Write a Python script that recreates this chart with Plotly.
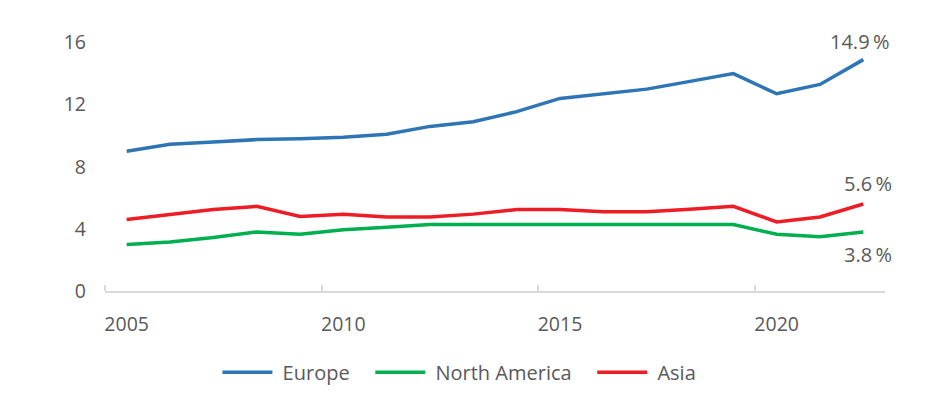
import plotly.graph_objects as go

years = list(range(2005, 2023))
europe = [9.0, 9.45, 9.6, 9.75, 9.8, 9.9, 10.1, 10.6, 10.9, 11.55, 12.4, 12.7, 13.0, 13.5, 14.0, 12.7, 13.3, 14.9]
north_america = [3.0, 3.15, 3.45, 3.8, 3.65, 3.95, 4.1, 4.28, 4.28, 4.28, 4.28, 4.28, 4.28, 4.28, 4.28, 3.65, 3.5, 3.8]
asia = [4.6, 4.95, 5.25, 5.45, 4.8, 4.95, 4.77, 4.77, 4.95, 5.25, 5.25, 5.1, 5.1, 5.27, 5.45, 4.45, 4.77, 5.6]

label_years = [2005, 2010, 2015, 2020]
y_ticks = [0, 4, 8, 12, 16]

series = [
    ("Europe", europe, "#2e75b6"),
    ("North America", north_america, "#00b050"),
    ("Asia", asia, "#ee1c25"),
]

txt = "#595959"
font = "Open Sans, Noto Sans, sans-serif"
nb = "\u00a0"

fig = go.Figure()
for name, vals, col in series:
    # nbsp padding to widen the gaps in the legend
    fig.add_trace(go.Scatter(x=years, y=vals, name=nb + name + nb * 3, mode="lines",
                             line=dict(color=col, width=3.5)))

# end-of-line value labels
fig.add_annotation(x=years[-1], y=europe[-1], text="%.1f\u2009%%" % europe[-1],
                   showarrow=False, yshift=18, xshift=-4, font=dict(size=20, color=txt))
fig.add_annotation(x=years[-1], y=asia[-1], text="%.1f\u2009%%" % asia[-1],
                   showarrow=False, yshift=21, xshift=5, font=dict(size=20, color=txt))
fig.add_annotation(x=years[-1], y=north_america[-1], text="%.1f\u2009%%" % north_america[-1],
                   showarrow=False, yshift=-23, xshift=5, font=dict(size=20, color=txt))

fig.update_layout(
    width=929, height=407,
    margin=dict(l=97, r=52, t=19, b=124),
    paper_bgcolor="white", plot_bgcolor="white",
    font=dict(family=font, size=19.5, color=txt),
    showlegend=True,
    legend=dict(orientation="h", xref="container", yref="container",
                x=0.494, xanchor="center", y=0.105, yanchor="middle",
                itemwidth=50, font=dict(size=20, color=txt),
                tracegroupgap=0),
    xaxis=dict(range=[years[0] - 0.5, years[-1] + 0.5],
               tickmode="array", tickvals=label_years,
               ticktext=[str(y) for y in label_years],
               ticks="", showgrid=False, zeroline=False,
               showline=True, linecolor="#d9d9d9", linewidth=1.5,
               ticklabelstandoff=15,
               minor=dict(tickmode="array", tickvals=[y - 0.5 for y in label_years],
                          ticks="inside", ticklen=6, tickcolor="#d9d9d9",
                          tickwidth=1.5, showgrid=False)),
    yaxis=dict(range=[0, 17], tickmode="array", tickvals=y_ticks,
               ticks="", showgrid=False, zeroline=False, showline=False,
               ticklabelstandoff=18),
)

fig.write_html("out.html")
